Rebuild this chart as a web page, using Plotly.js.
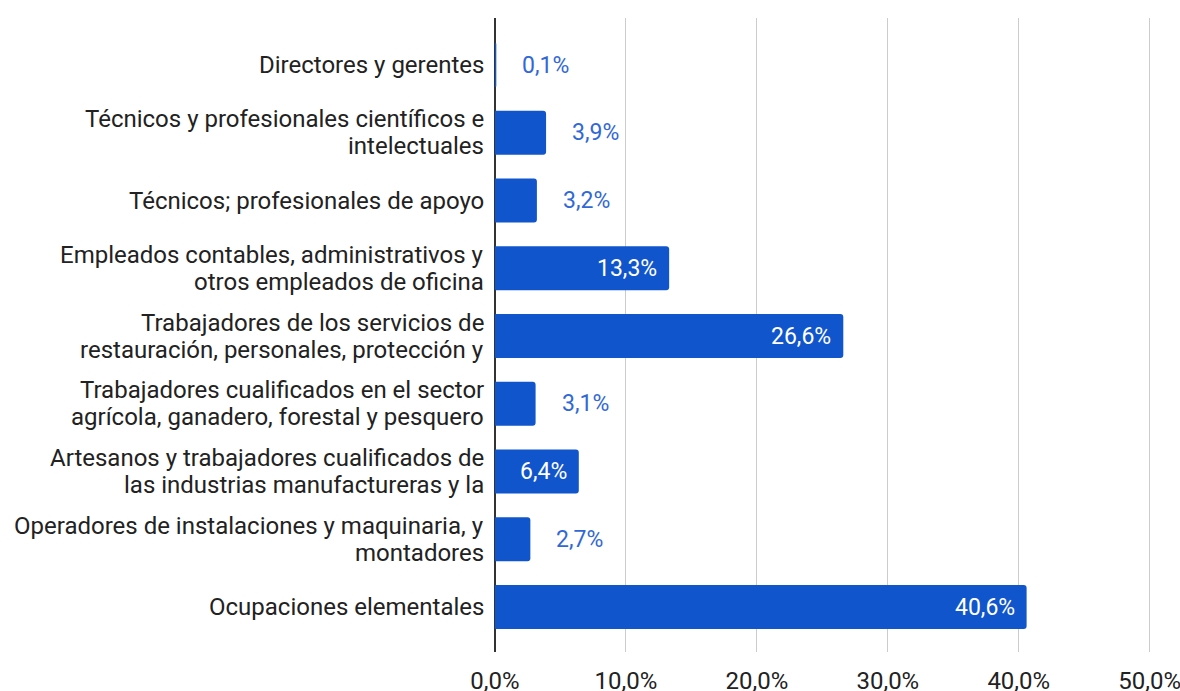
<!DOCTYPE html>
<html>
<head>
<meta charset="utf-8">
<script src="https://cdn.plot.ly/plotly-3.0.1.min.js"></script>
<style>html,body{margin:0;padding:0;background:#fff;}#chart{width:1180px;height:691px;}</style>
</head>
<body>
<div id="chart"></div>
<script>
const categories = [
  "Directores y gerentes",
  "Técnicos y profesionales científicos e<br>intelectuales",
  "Técnicos; profesionales de apoyo",
  "Empleados contables, administrativos y<br>otros empleados de oficina",
  "Trabajadores de los servicios de<br>restauración, personales, protección y",
  "Trabajadores cualificados en el sector<br>agrícola, ganadero, forestal y pesquero",
  "Artesanos y trabajadores cualificados de<br>las industrias manufactureras y la",
  "Operadores de instalaciones y maquinaria, y<br>montadores",
  "Ocupaciones elementales"
];
const values = [0.1, 3.9, 3.2, 13.3, 26.6, 3.1, 6.4, 2.7, 40.6];
const labelInside = [false, false, false, true, true, false, true, false, true];
const tickVals = [0, 10, 20, 30, 40, 50];
const tickText = ["0,0%", "10,0%", "20,0%", "30,0%", "40,0%", "50,0%"];

const barColor = "#1155cc";
const labelBlue = "#3168d6";
const textColor = "#222222";

const fmt = v => v.toFixed(1).replace(".", ",") + "%";

const trace = {
  type: "bar",
  orientation: "h",
  y: categories,
  x: values,
  marker: {color: barColor, cornerradius: 3},
  hoverinfo: "none"
};

const annotations = [];
values.forEach((v, i) => {
  annotations.push({
    x: v, y: categories[i], xref: "x", yref: "y",
    text: fmt(v),
    showarrow: false,
    xanchor: labelInside[i] ? "right" : "left",
    xshift: labelInside[i] ? -10 : 24,
    font: {family: "Roboto", size: 23, color: labelInside[i] ? "#ffffff" : labelBlue}
  });
});

// Category labels, one line each, with tight line spacing
const lineGap = 27;
categories.forEach((c, i) => {
  const lines = c.split("<br>");
  const n = lines.length;
  lines.forEach((ln, k) => {
    annotations.push({
      xref: "paper", x: 0, y: categories[i], yref: "y",
      text: ln,
      showarrow: false,
      xanchor: "right",
      yanchor: "middle",
      xshift: -9,
      yshift: ((n - 1) / 2 - k) * lineGap,
      font: {family: "Roboto", size: 24, color: textColor}
    });
  });
});

const layout = {
  width: 1180, height: 691,
  margin: {l: 495, r: 29, t: 18, b: 39},
  paper_bgcolor: "#fff", plot_bgcolor: "#fff",
  showlegend: false,
  bargap: 0.35,
  font: {family: "Roboto", size: 24, color: textColor},
  xaxis: {
    range: [0, 50.1],
    tickvals: tickVals,
    ticktext: tickText,
    showgrid: true, gridcolor: "#cccccc", gridwidth: 1,
    zeroline: true, zerolinecolor: "#333333", zerolinewidth: 2,
    showline: false,
    ticklabelstandoff: 12,
    ticklabeloverflow: "allow",
    tickfont: {family: "Roboto", size: 24, color: textColor},
    fixedrange: true
  },
  yaxis: {
    type: "category",
    range: [8.664, -0.694],
    showgrid: false, zeroline: false, showline: false,
    showticklabels: false,
    fixedrange: true
  },
  annotations: annotations
};

Plotly.newPlot("chart", [trace], layout, {displayModeBar: false, staticPlot: true});
</script>
</body>
</html>
